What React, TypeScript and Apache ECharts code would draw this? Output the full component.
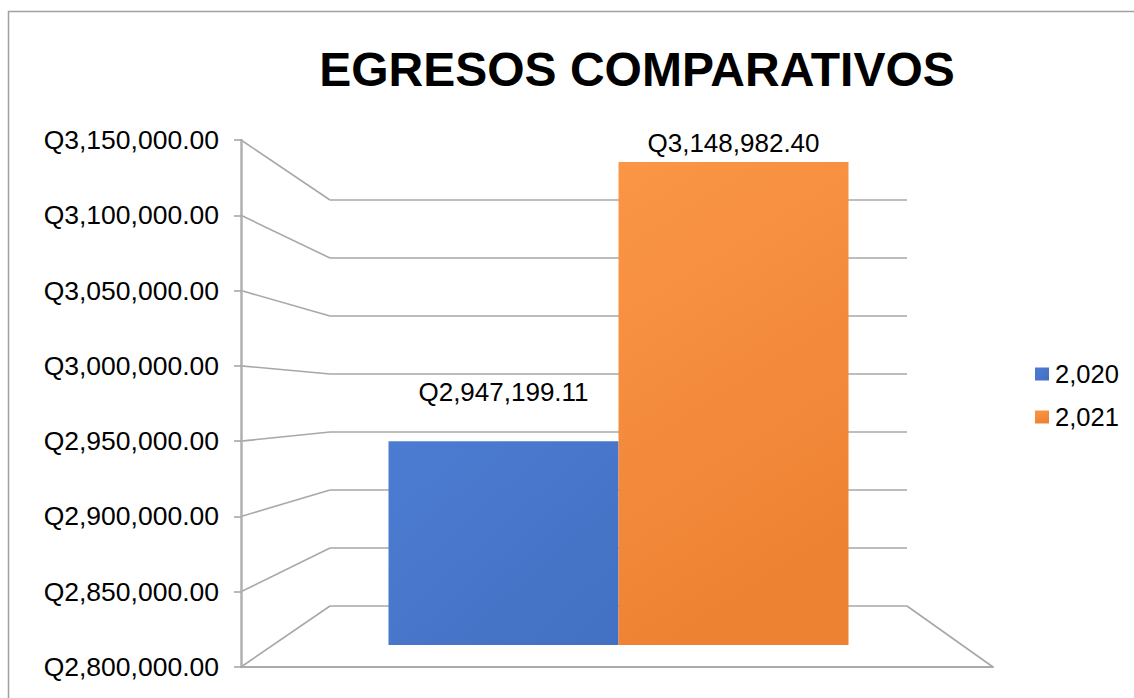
import React, { useEffect, useRef } from "react";
import * as echarts from "echarts";

const chartTitle = "EGRESOS COMPARATIVOS";
const categories = [""];
const seriesNames = ["2,020", "2,021"];
const values2020 = [2947199.11];
const values2021 = [3148982.4];
const yMin = 2800000;
const yMax = 3150000;
const yStep = 50000;

const FONT = "'Liberation Sans', Arial, sans-serif";
const FRONT = { left: 241, top: 140, width: 752, height: 527 };
const BACK = { left: 330, top: 200, width: 577, height: 406 };
const BARS = { left: 330, top: 160.6, width: 577, height: 484.4 };

function fmtQ(v: number): string {
  const [i, d] = v.toFixed(2).split(".");
  return "Q" + i.replace(/\B(?=(\d{3})+(?!\d))/g, ",") + "." + d;
}

export default function App() {
  const ref = useRef<HTMLDivElement>(null);
  useEffect(() => {
    document.body.style.margin = "0";
    const chart = echarts.init(ref.current!, null, { renderer: "svg" });
    const valueAxisBase = { type: "value", min: yMin, max: yMax, interval: yStep };
    const option: any = {
      animation: false,
      backgroundColor: "#ffffff",
      title: {
        text: chartTitle,
        left: 632,
        top: 40,
        textAlign: "center",
        textStyle: { fontFamily: FONT, fontSize: 48, fontWeight: "bold", color: "#000" },
      },
      legend: {
        orient: "vertical",
        left: 1035,
        top: 361,
        padding: 0,
        itemWidth: 14,
        itemHeight: 13,
        itemGap: 17,
        icon: "rect",
        data: seriesNames,
        textStyle: { fontFamily: FONT, fontSize: 25.5, color: "#000", padding: [0, 0, 0, 1] },
      },
      grid: [
        { ...FRONT },
        { ...BACK },
        { ...BARS },
      ],
      xAxis: [
        {
          type: "category", gridIndex: 0, data: categories,
          axisLine: { show: true, lineStyle: { color: "#aaaaaa", width: 2 } },
          axisTick: { show: false }, axisLabel: { show: false },
        },
        { type: "category", gridIndex: 1, data: categories, show: false },
        { type: "category", gridIndex: 2, data: categories, show: false },
      ],
      yAxis: [
        {
          ...valueAxisBase, gridIndex: 0,
          axisLine: { show: true, lineStyle: { color: "#b0b0b0", width: 2.5 } },
          axisTick: { show: true, length: 7, lineStyle: { color: "#a0a0a0", width: 1.5 } },
          splitLine: { show: false },
          axisLabel: { fontFamily: FONT, fontSize: 26.5, color: "#000", margin: 22, formatter: (v: number) => fmtQ(v) },
        },
        {
          ...valueAxisBase, gridIndex: 1,
          axisLine: { show: false }, axisTick: { show: false }, axisLabel: { show: false },
          splitLine: { show: true, lineStyle: { color: "#bdbdbd", width: 2 } },
        },
        { ...valueAxisBase, gridIndex: 2, show: false, splitLine: { show: false } },
      ],
      series: [
        {
          name: seriesNames[0], type: "bar", xAxisIndex: 2, yAxisIndex: 2,
          data: values2020, barWidth: 230, barGap: "0%",
          itemStyle: {
            color: new echarts.graphic.LinearGradient(0, 0, 1, 1, [
              { offset: 0, color: "#4c7cd2" },
              { offset: 1, color: "#4270c2" },
            ]),
          },
          label: {
            show: true, position: "top", distance: 36,
            fontFamily: FONT, fontSize: 26, color: "#000",
            formatter: (p: any) => fmtQ(p.value),
          },
        },
        {
          name: seriesNames[1], type: "bar", xAxisIndex: 2, yAxisIndex: 2,
          data: values2021, barWidth: 230, barGap: "0%",
          itemStyle: {
            color: new echarts.graphic.LinearGradient(0, 0, 0.3, 1, [
              { offset: 0, color: "#fb9647" },
              { offset: 1, color: "#ee8233" },
            ]),
          },
          label: {
            show: true, position: "top", distance: 6,
            fontFamily: FONT, fontSize: 26, color: "#000",
            formatter: (p: any) => fmtQ(p.value),
          },
        },
      ],
    };
    chart.setOption(option);

    const graphics: any[] = [
      {
        type: "rect", silent: true, z: -1,
        shape: { x: 8.5, y: 11.5, width: 1140, height: 700 },
        style: { fill: "none", stroke: "#a0a0a0", lineWidth: 1.5 },
      },
    ];
    const lineStyle = { stroke: "#a8a8a8", lineWidth: 1.6 };
    for (let v = yMin; v <= yMax; v += yStep) {
      const yf = chart.convertToPixel({ yAxisIndex: 0 }, v) as number;
      const yb = chart.convertToPixel({ yAxisIndex: 1 }, v) as number;
      graphics.push({
        type: "line", silent: true,
        shape: { x1: FRONT.left, y1: yf, x2: BACK.left, y2: yb },
        style: lineStyle,
      });
    }
    const yfBottom = chart.convertToPixel({ yAxisIndex: 0 }, yMin) as number;
    const ybBottom = chart.convertToPixel({ yAxisIndex: 1 }, yMin) as number;
    graphics.push({
      type: "line", silent: true,
      shape: { x1: BACK.left + BACK.width, y1: ybBottom, x2: FRONT.left + FRONT.width, y2: yfBottom },
      style: lineStyle,
    });
    chart.setOption({ graphic: graphics });

    return () => chart.dispose();
  }, []);
  return <div ref={ref} style={{ width: 1134, height: 698 }} />;
}
